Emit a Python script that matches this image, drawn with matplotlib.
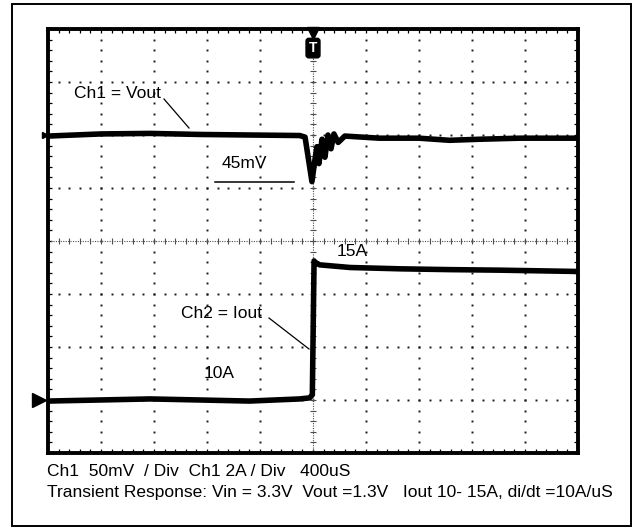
import numpy as np
import matplotlib.pyplot as plt
from matplotlib.patches import Rectangle

plt.rcParams["font.family"] = ["Liberation Sans", "DejaVu Sans"]

# scope settings
t_per_div = 400.0      # uS / div
v_per_div = 50.0       # mV / div (Ch1)
i_per_div = 2.0        # A / div (Ch2)
vout_offset_div = 2.0  # Ch1 nominal level on screen
iout_ref_amps = 10.0   # Ch2 level drawn at iout_ref_div
iout_ref_div = -3.0

# Ch1 = Vout, deviation from nominal (mV) vs time (uS, trigger at 0)
vout_t = [-2000, -1600, -1230, -850, -480, -100, -60, -8, 15, 30, 45, 68, 90,
          113, 136, 158, 190, 240, 500, 800, 1030, 1260, 1560, 2000]
vout_mv = [-1, 1, 1.5, 0.5, 0, -0.5, -2, -44, -23, -11, -27, -4, -21,
           0, -13, 1, -7, -1, -3, -3, -5, -4, -3, -3]

# Ch2 = Iout (A) vs time (uS)
iout_t = [-2000, -1230, -850, -480, -100, -25, -5, 8, 15, 50, 280, 660, 1030, 1400, 2000]
iout_a = [9.96, 10.04, 10.0, 9.96, 10.04, 10.08, 10.2, 15.25, 15.2, 15.1, 15.0,
          14.95, 14.92, 14.9, 14.85]

W, H = 639, 531
fig = plt.figure(figsize=(W / 100, H / 100), dpi=100)

# scope screen: 10 x 8 divisions
left, right, top, bottom = 48, 578, 29, 453
ax = fig.add_axes([left / W, 1 - bottom / H, (right - left) / W, (bottom - top) / H])
ax.set_xlim(-5 * t_per_div, 5 * t_per_div)
ax.set_ylim(-4, 4)
for s in ax.spines.values():
    s.set_linewidth(2.8)
ax.set_xticks(np.arange(-5, 6) * t_per_div)
ax.set_xticks(np.arange(-5, 5.01, 0.2) * t_per_div, minor=True)
ax.set_yticks(np.arange(-4, 5))
ax.set_yticks(np.arange(-4, 4.01, 0.2), minor=True)
ax.tick_params(which="both", direction="in", length=3, width=0.9,
               top=True, right=True, labelbottom=False, labelleft=False)

# dotted graticule
sub = np.arange(-4, 4.01, 0.2)
for k in range(-4, 5):
    if k == 0:
        continue
    ax.plot(np.full_like(sub, k * t_per_div), sub, ls="none", marker="s",
            ms=1.4, mew=0, color="0.1")
subx = np.arange(-5, 5.01, 0.2) * t_per_div
for k in range(-3, 4):
    if k == 0:
        continue
    ax.plot(subx, np.full_like(subx, k), ls="none", marker="s",
            ms=1.4, mew=0, color="0.1")

# centre axes with tick crosses
ax.axvline(0, ls=(0, (1, 1.2)), lw=0.8, color="0.3")
ax.axhline(0, ls=(0, (1, 1.2)), lw=0.8, color="0.3")
ax.plot(subx, np.zeros_like(subx), ls="none", marker="|", ms=5, mew=0.8, color="0.3")
ax.plot(np.zeros_like(sub), sub, ls="none", marker="_", ms=5, mew=0.8, color="0.3")

# traces
vy = vout_offset_div + np.array(vout_mv) / v_per_div
iy = iout_ref_div + (np.array(iout_a) - iout_ref_amps) / i_per_div
ax.plot(vout_t, vy, color="black", lw=4.0, solid_joinstyle="round")
ax.plot(iout_t, iy, color="black", lw=4.0, solid_joinstyle="round")

# trigger and channel markers
ax.plot([0], [3.93], marker="v", ms=8, color="black", clip_on=False)
ax.text(0, 3.64, "T", color="white", fontsize=10, fontweight="bold",
        ha="center", va="center",
        bbox=dict(boxstyle="round,pad=0.2", fc="black", ec="black"))
ax.plot([-5.17 * t_per_div], [iout_ref_div], marker=">", ms=10,
        color="black", clip_on=False)
ax.plot([-5.05 * t_per_div], [vout_offset_div], marker=">", ms=4,
        color="black", clip_on=False)

# overlay in pixel coordinates for the border and the captions
ov = fig.add_axes([0, 0, 1, 1], zorder=5)
ov.patch.set_visible(False)
ov.set_xlim(0, W)
ov.set_ylim(H, 0)
ov.axis("off")
ov.add_patch(Rectangle((12, 4), 619, 522, fill=False, lw=1.4, ec="black"))

fs = 12.5
ov.text(74, 94, "Ch1 = Vout", fontsize=fs, va="center")
ov.plot([164, 189], [99, 128], color="black", lw=0.9)
ov.text(222, 164, "45mV", fontsize=fs, va="center")
ov.plot([215, 294], [182, 182], color="black", lw=1.1)
ov.text(337, 251, "15A", fontsize=fs, va="center")
ov.text(181, 314, "Ch2 = Iout", fontsize=fs, va="center")
ov.plot([269, 309], [318, 349], color="black", lw=0.9)
ov.text(204, 374, "10A", fontsize=fs, va="center")

ov.text(47, 472, "Ch1  50mV  / Div  Ch1 2A / Div   400uS", fontsize=fs, va="center")
ov.text(47, 493, "Transient Response: Vin = 3.3V  Vout =1.3V   Iout 10- 15A, di/dt =10A/uS",
        fontsize=fs, va="center")

fig.savefig("out.png", dpi=100)
